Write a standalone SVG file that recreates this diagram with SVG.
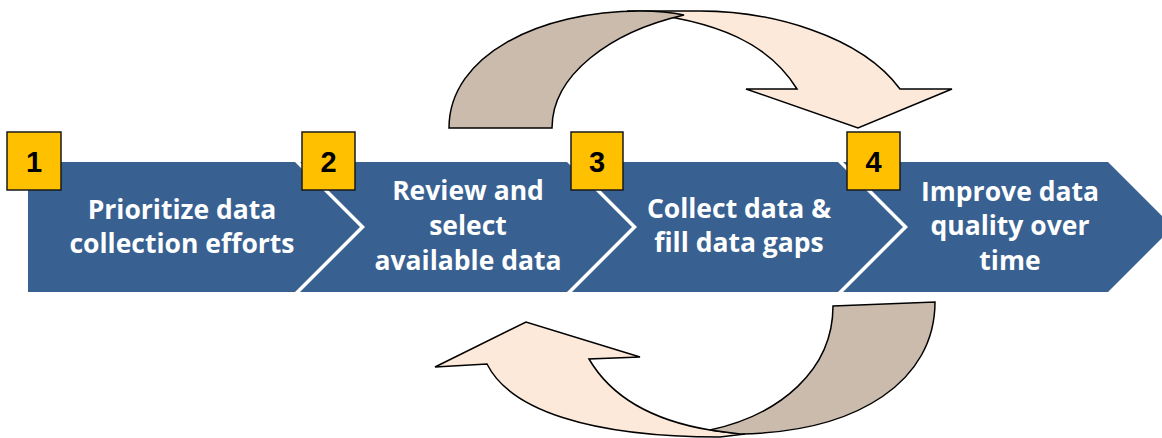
<svg xmlns="http://www.w3.org/2000/svg" width="1162" height="438" viewBox="0 0 1162 438">
  <style>
    .chev { fill: #386192; }
    .box { fill: #FFC000; stroke: #1a1a1a; stroke-width: 1.5; }
    .num { font-family: "Liberation Sans", Arial, sans-serif; font-weight: 700; font-size: 29px; fill: #000; text-anchor: middle; }
    .lbl { font-family: "Open Sans", "Liberation Sans", sans-serif; font-weight: 700; font-size: 26.5px; fill: #fff; text-anchor: middle; }
    .head { fill: #FDE9D9; stroke: #000; stroke-width: 1.5; stroke-linejoin: miter; }
    .tail { fill: #CBBBAD; stroke: #000; stroke-width: 1.5; }
  </style>
  <rect width="1162" height="438" fill="#fff"/>
  <g id="connectors">
    <g id="cycle-top">
      <path class="head" d="M627,11 L700,11 C770,11 860,35 900,89 L952,89 L858,128 L746,89 L797,89 C770,45 720,20 627,11 Z"/>
      <path class="tail" d="M449,128 C449,55 540,11 640,11 C658,11 670,12 684,15 C610,32 552,75 552,128 Z"/>
    </g>
    <g id="cycle-bottom">
      <path class="head" d="M487,364 C510,410 590,437 720,437 L745,434 C732,433 720,432 710,430 C650,420 610,395 589,359 L640,357 L526,322 L435,367 Z"/>
      <path class="tail" d="M833,306 L935,302 C935,380 860,432 740,434 L710,430 C780,415 833,370 833,306 Z"/>
    </g>
  </g>
  <g id="step1">
    <polygon class="chev" points="28,162 295,162 360,227 295,292 28,292"/>
    <text class="lbl" x="182"><tspan x="182" y="219">Prioritize data</tspan><tspan x="182" y="253">collection efforts</tspan></text>
    <rect class="box" x="7" y="132" width="54" height="58"/>
    <text class="num" x="34" y="172">1</text>
  </g>
  <g id="step2">
    <polygon class="chev" points="300,162 567,162 632,227 567,292 300,292 365,227"/>
    <text class="lbl" x="468"><tspan x="468" y="200">Review and</tspan><tspan x="468" y="235">select</tspan><tspan x="468" y="270">available data</tspan></text>
    <rect class="box" x="302" y="132" width="53" height="58"/>
    <text class="num" x="328.5" y="172">2</text>
  </g>
  <g id="step3">
    <polygon class="chev" points="572,162 838,162 903,227 838,292 572,292 637,227"/>
    <text class="lbl" x="739"><tspan x="739" y="218">Collect data &amp;</tspan><tspan x="739" y="252">fill data gaps</tspan></text>
    <rect class="box" x="571" y="132" width="52" height="58"/>
    <text class="num" x="597" y="172">3</text>
  </g>
  <g id="step4">
    <polygon class="chev" points="843,162 1108,162 1173,227 1108,292 843,292 908,227"/>
    <text class="lbl" x="1010"><tspan x="1010" y="201">Improve data</tspan><tspan x="1010" y="235">quality over</tspan><tspan x="1010" y="270">time</tspan></text>
    <rect class="box" x="847" y="132" width="53" height="58"/>
    <text class="num" x="873.5" y="172">4</text>
  </g>
</svg>
